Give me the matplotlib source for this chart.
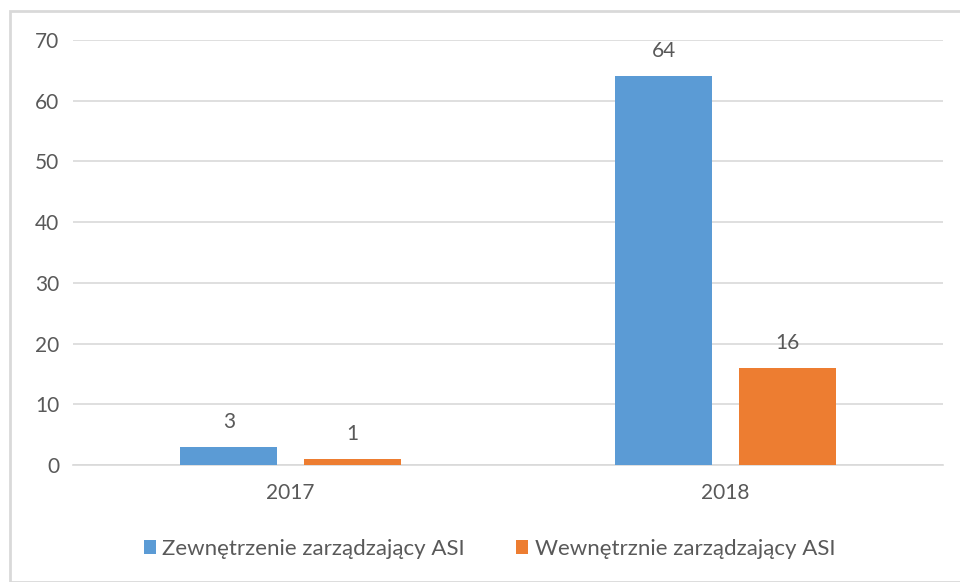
import numpy as np
import matplotlib

matplotlib.use('Agg')
from matplotlib import pyplot as plt
from matplotlib.patches import Rectangle

years = ['2017', '2018']
series_names = ['Zewnętrzenie zarządzający ASI', 'Wewnętrznie zarządzający ASI']
external = [3, 64]
internal = [1, 16]
colors = ['#5B9BD5', '#ED7D31']
text_color = '#595959'

plt.rcParams['font.family'] = ['Lato', 'DejaVu Sans']

fig = plt.figure(figsize=(9.6, 5.82), dpi=100)
ax = fig.add_axes([73 / 960, 1 - 465 / 582, 870 / 960, 425 / 582])

# chart frame
fig.patches.append(Rectangle((10 / 960, 0), 1, 1 - 11 / 582, transform=fig.transFigure,
                             fill=False, edgecolor='#D9D9D9', linewidth=2))

x = np.arange(len(years))
width = 0.223
offset = 0.142
for vals, name, col, sgn in [(external, series_names[0], colors[0], -1),
                             (internal, series_names[1], colors[1], 1)]:
    bars = ax.bar(x + sgn * offset, vals, width, color=col, label=name, zorder=3)
    for b, v in zip(bars, vals):
        ax.text(b.get_x() + b.get_width() / 2, v + 2.5, str(v), ha='center', va='bottom',
                fontsize=15, color=text_color)

ax.set_xlim(-0.5, 1.5)
ax.set_ylim(0, 70)
ax.set_yticks(range(0, 71, 10))
ax.set_xticks(x)
ax.set_xticklabels(years)
ax.grid(axis='y', color='#D9D9D9', linewidth=1.2, zorder=0)
for s in ['top', 'right', 'left']:
    ax.spines[s].set_visible(False)
ax.spines['bottom'].set_color('#D9D9D9')
ax.spines['bottom'].set_linewidth(1.2)
ax.tick_params(axis='both', length=0, labelsize=15, colors=text_color)
ax.tick_params(axis='y', pad=10)
ax.tick_params(axis='x', pad=13)

fig.legend(loc='center', bbox_to_anchor=(0.51, 1 - 549 / 582), ncol=2, frameon=False,
           fontsize=16, labelcolor=text_color, handlelength=0.55, handleheight=0.55,
           handletextpad=0.3, columnspacing=2.3)

fig.savefig('out.png', dpi=100)
